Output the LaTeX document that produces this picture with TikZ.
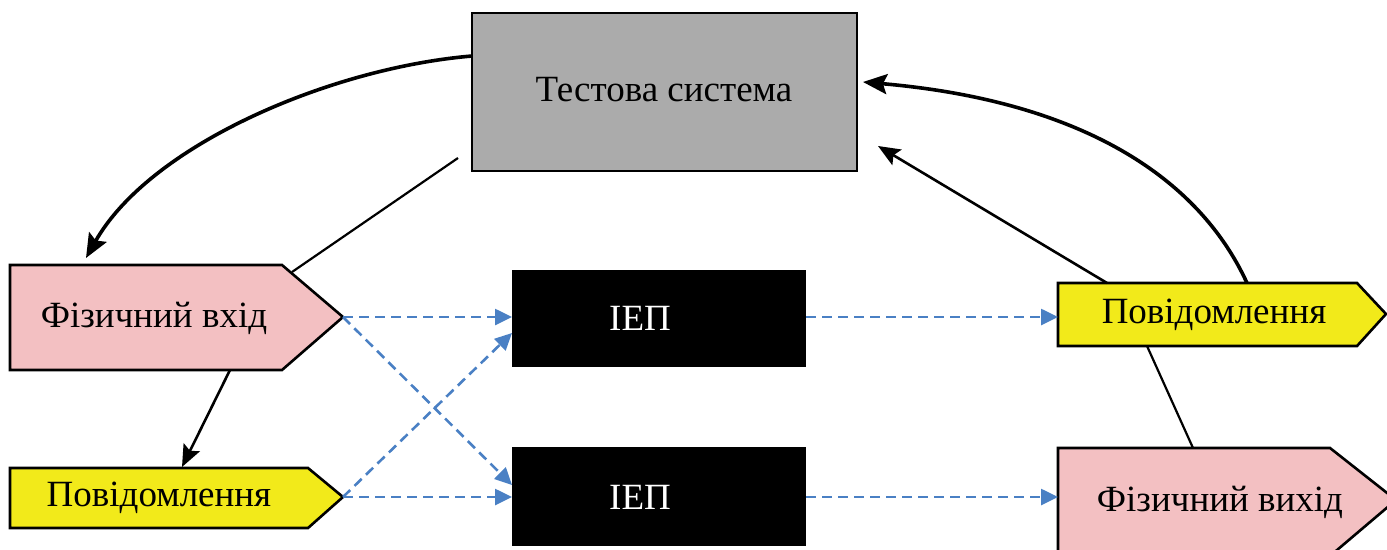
\documentclass[tikz,border=0pt]{standalone}
\usepackage{fontspec}
\setmainfont{Liberation Serif}
\usetikzlibrary{arrows.meta}
\definecolor{pinkc}{HTML}{F3C0C2}
\definecolor{yellowc}{HTML}{F2EA1A}
\definecolor{grayc}{HTML}{ABABAB}
\definecolor{bluec}{HTML}{4A80C4}
\tikzset{
  boxline/.style={draw=black,line width=2.6pt},
  lbl/.style={inner sep=0pt,font=\fontsize{37}{42}\selectfont},
  thickarr/.style={draw=black,line width=3.6pt,-{Stealth[length=24pt,width=20pt,inset=4pt]}},
  thinarr/.style={draw=black,line width=2.6pt,-{Stealth[length=22pt,width=18pt,inset=4pt]}},
  thinline/.style={draw=black,line width=2.2pt},
  dasharr/.style={draw=bluec,line width=2.6pt,dash pattern=on 10pt off 6pt,-{Triangle[length=17pt,width=16pt]}},
}
\begin{document}
\begin{tikzpicture}[x=1pt,y=-1pt]
\useasboundingbox (0,0) rectangle (1387,549);
\clip (0,0) rectangle (1387,549);
% Test system
\draw[boxline,fill=grayc] (472,13) rectangle (857,171);
\node[lbl] (ts) at (664,90) {Тестова система};
% Physical input
\draw[boxline,fill=pinkc] (10,265) -- (282,265) -- (343,317) -- (282,370) -- (10,370) -- cycle;
\node[lbl] (fin) at (154,318) {Фізичний вхід};
% Message left
\draw[boxline,fill=yellowc] (10,468) -- (308,468) -- (343,497) -- (308,528) -- (10,528) -- cycle;
\node[lbl] (msgl) at (159,498) {Повідомлення};
% IEP boxes
\fill[black] (512,270) rectangle (806,367);
\node[lbl,text=white] (iep1) at (640,318) {ІЕП};
\fill[black] (512,447) rectangle (806,546);
\node[lbl,text=white] (iep2) at (640,497) {ІЕП};
% Message right
\draw[boxline,fill=yellowc] (1058,283) -- (1357,283) -- (1386,314) -- (1357,346) -- (1058,346) -- cycle;
\node[lbl] (msgr) at (1214,315) {Повідомлення};
% Physical output
\draw[boxline,fill=pinkc] (1058,448) -- (1330,448) -- (1396,500) -- (1330,556) -- (1058,556) -- cycle;
\node[lbl] (fout) at (1220,502) {Фізичний вихід};
% coordinates
\coordinate (tsL) at (472,56);
\coordinate (tsBL) at (458,158);
\coordinate (tsR) at (863,82);
\coordinate (tsRB) at (878,146);
\coordinate (finTop) at (86,258);
\coordinate (finTR) at (292,272);
\coordinate (finTip) at (343,317);
\coordinate (finBot) at (230,370);
\coordinate (msglTop) at (182,467);
\coordinate (msglTip) at (343,497);
\coordinate (iep1L) at (512,317);
\coordinate (iep1LB) at (512,333);
\coordinate (iep1R) at (806,317);
\coordinate (iep2L) at (512,497);
\coordinate (iep2LT) at (512,485);
\coordinate (iep2R) at (806,497);
\coordinate (msgrL) at (1058,317);
\coordinate (msgrT1) at (1107,283);
\coordinate (msgrT2) at (1247,283);
\coordinate (msgrB) at (1147,346);
\coordinate (foutL) at (1058,497);
\coordinate (foutT) at (1193,448);
% connectors
\draw[thickarr] (tsL) .. controls (330,68) and (150,145) .. (finTop);
\draw[thinline] (tsBL) -- (finTR);
\draw[thinarr] (finBot) -- (msglTop);
\draw[dasharr] (finTip) -- (iep1L);
\draw[dasharr] (finTip) -- (iep2LT);
\draw[dasharr] (msglTip) -- (iep1LB);
\draw[dasharr] (msglTip) -- (iep2L);
\draw[dasharr] (iep1R) -- (msgrL);
\draw[dasharr] (iep2R) -- (foutL);
\draw[thickarr] (msgrT2) .. controls (1195,170) and (1070,100) .. (tsR);
\draw[thinarr] (msgrT1) -- (tsRB);
\draw[thinline] (foutT) -- (msgrB);
\end{tikzpicture}
\end{document}
